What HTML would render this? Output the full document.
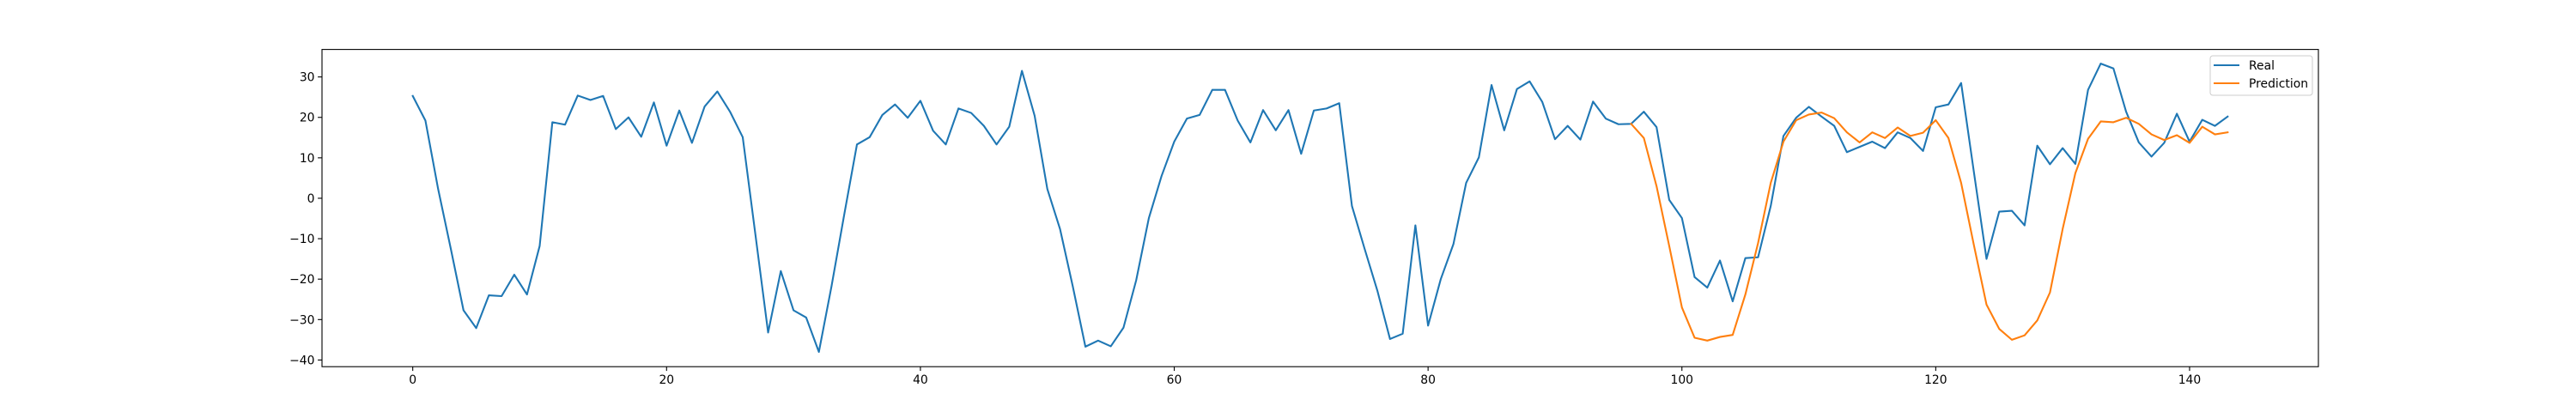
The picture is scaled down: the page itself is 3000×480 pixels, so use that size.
<!DOCTYPE html>
<html><head><meta charset="utf-8"><style>
html,body{margin:0;padding:0;background:#fff}
svg{display:block}
text{font-family:"DejaVu Sans","Liberation Sans",sans-serif;font-size:13.9px;fill:#000}
</style></head><body>
<svg id="chart" width="3000" height="480" viewBox="0 0 3000 480" xmlns="http://www.w3.org/2000/svg">
<rect width="3000" height="480" fill="#fff"/>
<g id="grid"></g>
<g id="series"></g>
<rect x="375" y="57.6" width="2325" height="369.6" fill="none" stroke="#000" stroke-width="1.1"/>
<g id="axes"></g>
<g>
<rect x="2574" y="65" width="119" height="46" rx="3" fill="#fff" fill-opacity="0.8" stroke="#ccc" stroke-width="1"/>
<line x1="2578" y1="76" x2="2608" y2="76" stroke="#1f77b4" stroke-width="2"/>
<text x="2619" y="81">Real</text>
<line x1="2578" y1="97" x2="2608" y2="97" stroke="#ff7f0e" stroke-width="2"/>
<text x="2619" y="102">Prediction</text>
</g>
</svg>
<script>
const realValues = [25.3,19.2,2.3,-12.5,-27.7,-32.1,-24,-24.2,-18.9,-23.8,-11.8,18.8,18.2,25.4,24.3,25.3,17.1,20,15.2,23.7,13,21.7,13.7,22.7,26.4,21.4,15.1,-9,-33.2,-18,-27.7,-29.5,-38,-21.7,-4,13.3,15.1,20.6,23.2,19.9,24.1,16.7,13.3,22.2,21.1,17.9,13.3,17.7,31.5,20.4,2.3,-7.6,-21.7,-36.7,-35.2,-36.6,-32,-20.3,-4.9,5.5,14,19.7,20.6,26.8,26.8,19.2,13.8,21.8,16.8,21.8,11,21.7,22.2,23.5,-1.9,-12.5,-22.8,-34.8,-33.5,-6.7,-31.5,-20,-11.3,3.8,10.1,28,16.8,27,28.9,23.8,14.6,17.9,14.5,23.9,19.7,18.3,18.4,21.4,17.6,-0.4,-4.9,-19.5,-22.1,-15.4,-25.5,-14.8,-14.6,-1.9,15.4,19.9,22.6,20.2,17.9,11.4,12.7,14,12.4,16.3,14.9,11.7,22.5,23.2,28.5,6.6,-15,-3.3,-3.1,-6.7,13,8.4,12.4,8.5,26.8,33.3,32.1,21.4,13.8,10.3,13.7,20.9,14,19.4,17.9,20.2];
const predStart = 96;
const predValues = [18.4,14.9,3,-11.8,-27,-34.5,-35.2,-34.3,-33.8,-23.8,-11.1,3.8,14,19.3,20.7,21.2,19.8,16.3,13.8,16.3,14.9,17.5,15.4,16.2,19.3,14.9,3.8,-11.5,-26.3,-32.3,-35,-33.9,-30.2,-23.3,-7.6,6.2,14.7,19,18.8,19.9,18.4,15.8,14.4,15.6,13.7,17.7,15.8,16.3];
const xTicks = [0,20,40,60,80,100,120,140];
const yTicks = [-40,-30,-20,-10,0,10,20,30];

const NS = "http://www.w3.org/2000/svg";
const xMin=-7.15, xMax=150.15, yMin=-41.65, yMax=36.8;
const L=375, R=2700, T=57.6, B=427.2;
function xs(v){return L+(v-xMin)/(xMax-xMin)*(R-L);}
function ys(v){return B-(v-yMin)/(yMax-yMin)*(B-T);}
function mk(tag,attrs,parent){const e=document.createElementNS(NS,tag);for(const k in attrs)e.setAttribute(k,attrs[k]);parent.appendChild(e);return e;}
const axes=document.getElementById('axes'), series=document.getElementById('series');
function fmt(v){return v<0?'\u2212'+Math.abs(v):String(v);}
xTicks.forEach(t=>{
  const x=xs(t);
  const ln=mk('line',{x1:x,x2:x,y1:B,y2:B+4.9,stroke:'#000','stroke-width':1.1},axes);
  
  
  const tx=mk('text',{x:x,y:B+20,'text-anchor':'middle'},axes);
  tx.textContent=fmt(t);
  
  
});
yTicks.forEach(t=>{
  const y=ys(t);
  const ln=mk('line',{x1:L-4.9,x2:L,y1:y,y2:y,stroke:'#000','stroke-width':1.1},axes);
  
  
  const tx=mk('text',{x:L-8.5,y:y+5,'text-anchor':'end'},axes);
  tx.textContent=fmt(t);
  
  
});
function line(vals,off,color,name){
  const pts=vals.map((v,i)=>xs(i+off).toFixed(2)+','+ys(v).toFixed(2)).join(' ');
  const p=mk('polyline',{points:pts,fill:'none',stroke:color,'stroke-width':2.1,'stroke-linejoin':'round','stroke-linecap':'square'},series);
  
  
}
line(realValues,0,'#1f77b4','real-line');
line(predValues,predStart,'#ff7f0e','prediction-line');
</script>
</body></html>
